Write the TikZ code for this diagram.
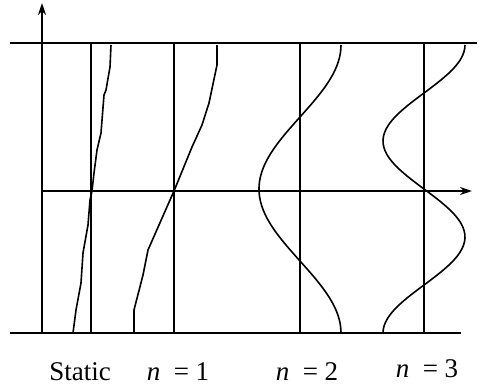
\documentclass[tikz,border=0pt]{standalone}
\usepackage{fontspec}
\setmainfont{Liberation Serif}
\usetikzlibrary{arrows.meta}
\begin{document}
\begin{tikzpicture}[x=0.5pt, y=0.5pt, line width=1pt]
  \useasboundingbox (-42,-196) rectangle (437,191);
  \draw[->, >={Stealth[length=6pt, width=4pt]}] (0,-142) -- (0,188);
  \draw[->, >={Stealth[length=6pt, width=4pt]}] (0,0) -- (430,0);
  \draw (-32,148) -- (435,148);
  \draw (-32,-142) -- (419,-142);
  \foreach \xv in {49,132,258,382}
    \draw (\xv,-142) -- (\xv,148);
  \draw[line width=0.8pt] plot coordinates {
    (69,146) (68,124) (64,101) (62,96) (59,58) (55,41) (52,18)
    (50,0) (48,-9) (46,-34) (41,-62) (39,-92) (34,-119) (31,-142)};
  \draw[line width=0.8pt] plot coordinates {
    (175,146) (175,126) (167,88) (160,66) (150,44) (132,0)
    (128,-9) (106,-59) (101,-84) (92,-119) (92,-142)};
  \draw[line width=0.8pt] plot[smooth, domain=0:1, samples=60]
    ({258+41*cos(360*\x)}, {146-288*\x});
  \draw[line width=0.8pt] plot[smooth, domain=0:1, samples=80]
    ({382+41*cos(540*\x)}, {146-288*\x});
  \node[anchor=base, font=\fontsize{13.5}{15}\selectfont] (static) at (38,-189) {Static};
  \node[anchor=base, font=\fontsize{13.5}{15}\selectfont] (mode1) at (136,-189) {\textit{n}\enspace= 1};
  \node[anchor=base, font=\fontsize{13.5}{15}\selectfont] (mode2) at (265,-189) {\textit{n}\enspace= 2};
  \node[anchor=base, font=\fontsize{13.5}{15}\selectfont] (mode3) at (385,-186) {\textit{n}\enspace= 3};
\end{tikzpicture}
\end{document}
